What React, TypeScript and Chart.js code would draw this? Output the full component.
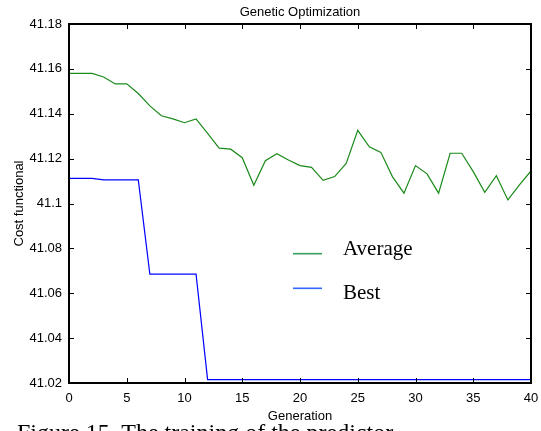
import React, { useEffect, useRef } from "react";
import { Chart, registerables } from "chart.js";

Chart.register(...registerables);

const generations = [
  0, 1, 2, 3, 4, 5, 6, 7, 8, 9, 10, 11, 12, 13, 14, 15, 16, 17, 18, 19, 20,
  21, 22, 23, 24, 25, 26, 27, 28, 29, 30, 31, 32, 33, 34, 35, 36, 37, 38, 39, 40,
];

const averageCost = [
  41.158, 41.158, 41.158, 41.1564, 41.1533, 41.1533, 41.149, 41.1435, 41.1391,
  41.1377, 41.136, 41.1377, 41.1313, 41.1247, 41.1242, 41.1204, 41.1081,
  41.1191, 41.1222, 41.1194, 41.1169, 41.1161, 41.1103, 41.112, 41.1179,
  41.1326, 41.1253, 41.1228, 41.112, 41.1046, 41.1169, 41.1132, 41.1046,
  41.1224, 41.1224, 41.1142, 41.105, 41.1124, 41.1016, 41.1083, 41.1145,
];

const bestCost = [
  41.1112, 41.1112, 41.1112, 41.1105, 41.1105, 41.1105, 41.1105, 41.0685,
  41.0685, 41.0685, 41.0685, 41.0685, 41.0215, 41.0215, 41.0215, 41.0215,
  41.0215, 41.0215, 41.0215, 41.0215, 41.0215, 41.0215, 41.0215, 41.0215,
  41.0215, 41.0215, 41.0215, 41.0215, 41.0215, 41.0215, 41.0215, 41.0215,
  41.0215, 41.0215, 41.0215, 41.0215, 41.0215, 41.0215, 41.0215, 41.0215,
  41.0215,
];

const seriesLabels = ["Average", "Best"];
const xTickValues = [0, 5, 10, 15, 20, 25, 30, 35, 40];
const yTickValues = [41.02, 41.04, 41.06, 41.08, 41.1, 41.12, 41.14, 41.16, 41.18];

const chartTitle = "Genetic Optimization";
const xTitle = "Generation";
const yTitle = "Cost functional";
const caption = "Figure 15. The training of the predictor";

const lineColors = ["#1a8a1a", "#0000ff"];
const legendColors = ["#35a060", "#3366ff"];

const framePlugin = {
  id: "frame",
  afterDatasetsDraw(chart: any) {
    const { ctx, chartArea: a, scales } = chart;
    const x = scales.x;
    const y = scales.y;
    const L = 5;
    ctx.save();
    ctx.strokeStyle = "#000";
    ctx.lineWidth = 1;
    ctx.beginPath();
    xTickValues.forEach((v) => {
      const px = Math.round(x.getPixelForValue(v)) + 0.5;
      ctx.moveTo(px, a.bottom);
      ctx.lineTo(px, a.bottom - L);
      ctx.moveTo(px, a.top);
      ctx.lineTo(px, a.top + L);
    });
    yTickValues.forEach((v) => {
      const py = Math.round(y.getPixelForValue(v)) + 0.5;
      ctx.moveTo(a.left, py);
      ctx.lineTo(a.left + L, py);
      ctx.moveTo(a.right, py);
      ctx.lineTo(a.right - L, py);
    });
    ctx.stroke();
    ctx.lineWidth = 2;
    ctx.strokeRect(a.left, a.top, a.right - a.left, a.bottom - a.top);
    ctx.restore();
  },
};

const legendPlugin = {
  id: "insideLegend",
  afterDatasetsDraw(chart: any) {
    const { ctx, chartArea: a } = chart;
    const entries = chart.data.datasets;
    const lineY = [253.7, 288.3];
    const textY = [255.3, 299];
    ctx.save();
    ctx.font = "21px 'Liberation Serif'";
    ctx.textBaseline = "alphabetic";
    ctx.textAlign = "left";
    entries.forEach((ds: any, i: number) => {
      const ly = a.top + (lineY[i] - 24);
      const ty = a.top + (textY[i] - 24);
      ctx.strokeStyle = legendColors[i];
      ctx.lineWidth = 1.6;
      ctx.beginPath();
      ctx.moveTo(a.left + (293 - 69), ly);
      ctx.lineTo(a.left + (322 - 69), ly);
      ctx.stroke();
      ctx.fillStyle = "#000";
      ctx.fillText(ds.label, a.left + (343 - 69), ty);
    });
    ctx.restore();
  },
};

export default function App() {
  const ref = useRef<HTMLCanvasElement | null>(null);

  useEffect(() => {
    if (!ref.current) return;
    const chart = new Chart(ref.current, {
      type: "line",
      data: {
        datasets: [
          {
            label: seriesLabels[0],
            data: generations.map((g, i) => ({ x: g, y: averageCost[i] })),
            borderColor: lineColors[0],
            borderWidth: 1.2,
            pointRadius: 0,
            tension: 0,
            fill: false,
          },
          {
            label: seriesLabels[1],
            data: generations.map((g, i) => ({ x: g, y: bestCost[i] })),
            borderColor: lineColors[1],
            borderWidth: 1.2,
            pointRadius: 0,
            tension: 0,
            fill: false,
          },
        ],
      },
      options: {
        responsive: false,
        animation: false,
        layout: { padding: { left: 0, right: 10, top: 0, bottom: 0 } },
        plugins: {
          legend: { display: false },
          tooltip: { enabled: false },
          title: {
            display: true,
            text: chartTitle,
            fullSize: false,
            color: "#000",
            font: { family: "'Liberation Sans', Arial", size: 13, weight: "normal" },
            padding: { top: 5, bottom: 3.4 },
          },
        },
        scales: {
          x: {
            type: "linear",
            min: 0,
            max: 40,
            afterBuildTicks: (s: any) => {
              s.ticks = xTickValues.map((v) => ({ value: v }));
            },
            afterFit: (s: any) => {
              s.height = 48;
              s.paddingLeft = 0;
              s.paddingRight = 0;
            },
            grid: { display: false, drawTicks: false },
            border: { display: false },
            ticks: {
              color: "#000",
              padding: 8,
              maxRotation: 0,
              autoSkip: false,
              font: { family: "'Liberation Sans', Arial", size: 13 },
              callback: (v: any) => String(v),
            },
            title: {
              display: true,
              text: xTitle,
              color: "#000",
              font: { family: "'Liberation Sans', Arial", size: 13 },
              padding: { top: 0, bottom: 6.5 },
            },
          },
          y: {
            type: "linear",
            min: 41.02,
            max: 41.18,
            afterBuildTicks: (s: any) => {
              s.ticks = yTickValues.map((v) => ({ value: v }));
            },
            afterFit: (s: any) => {
              s.width = 69;
              s.paddingTop = 0;
              s.paddingBottom = 0;
            },
            grid: { display: false, drawTicks: false },
            border: { display: false },
            ticks: {
              color: "#000",
              padding: 7,
              autoSkip: false,
              font: { family: "'Liberation Sans', Arial", size: 13 },
              callback: (v: any) => String(Number(Number(v).toFixed(2))),
            },
            title: {
              display: true,
              text: yTitle,
              color: "#000",
              font: { family: "'Liberation Sans', Arial", size: 13 },
              padding: { top: 11.2, bottom: 0 },
            },
          },
        },
      },
      plugins: [framePlugin, legendPlugin],
    });
    return () => chart.destroy();
  }, []);

  return (
    <div
      style={{
        position: "fixed",
        left: 0,
        top: 0,
        width: 541,
        height: 431,
        overflow: "hidden",
        background: "#fff",
      }}
    >
      <canvas ref={ref} width={541} height={431} style={{ display: "block" }} />
      <div
        style={{
          position: "absolute",
          left: 17,
          top: 420,
          fontFamily: "'Liberation Serif', 'Times New Roman', serif",
          fontSize: 24,
          lineHeight: "24px",
          whiteSpace: "nowrap",
          color: "#000",
        }}
      >
        {caption}
      </div>
    </div>
  );
}
